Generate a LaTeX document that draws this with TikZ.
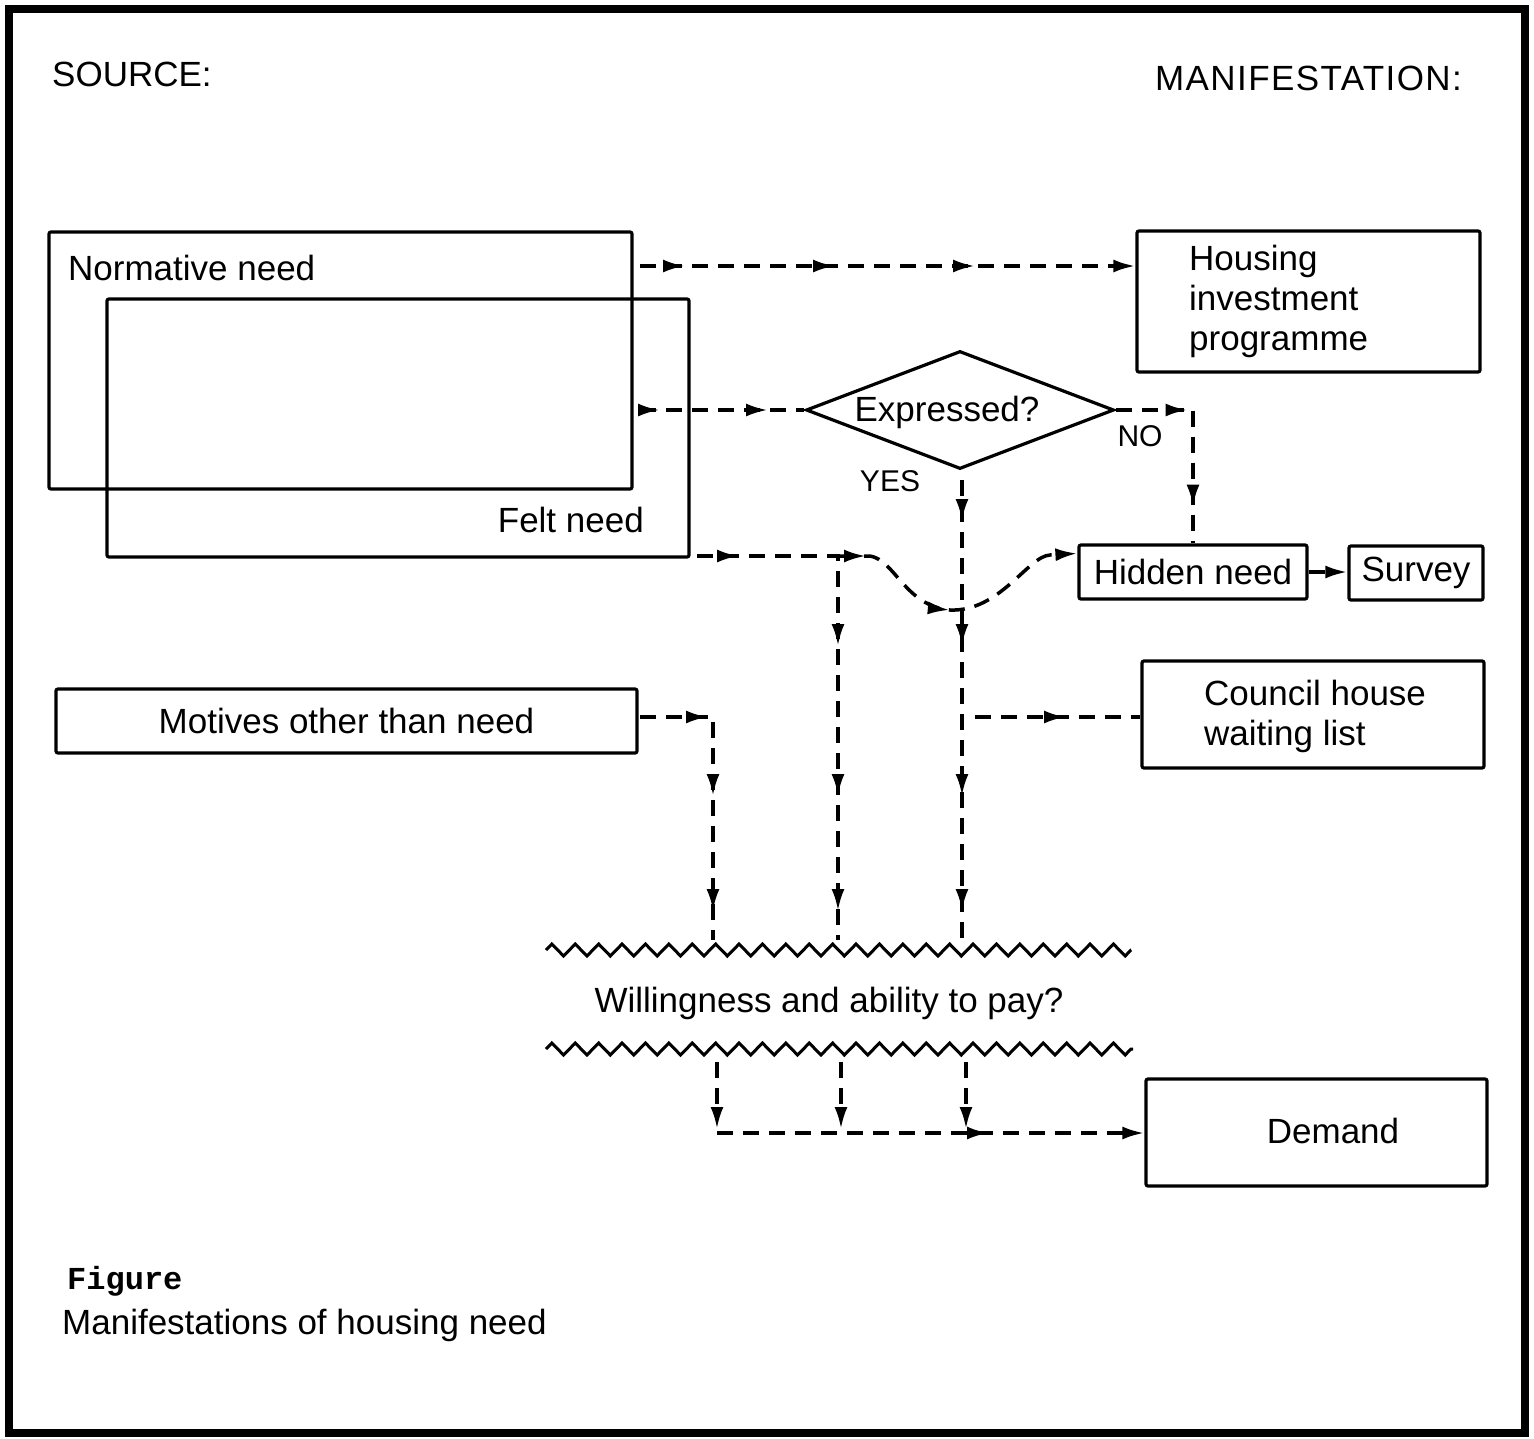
\documentclass[tikz,border=0pt]{standalone}
\usepackage{fontspec}
\setmainfont{Liberation Sans}
\newfontfamily\figmono{Liberation Mono}
\usetikzlibrary{arrows.meta,decorations.markings,decorations.pathmorphing,shapes.geometric,calc}
\begin{document}
\begin{tikzpicture}[x=1pt,y=-1pt,
  >={Latex[length=22pt,width=13pt]},
  every node/.style={inner sep=0pt, font=\fontsize{35}{40}\selectfont},
  box/.style={draw, line width=3.2pt, rounded corners=2pt},
  flow/.style={line width=3.5pt, dash pattern=on 16pt off 10pt},
  am/.style={postaction={decorate,decoration={markings,mark=at position #1 with {\arrow{>}}}}},
  zz/.style={line width=3pt, decorate, decoration={zigzag, segment length=23.4pt, amplitude=6pt}},
  small/.style={font=\fontsize{30}{36}\selectfont}
]
\useasboundingbox (0,0) rectangle (1534,1438);
\draw[line width=8pt] (9,9) rectangle (1525,1433);

% boxes
\node[box, minimum width=583pt, minimum height=257pt] (norm) at (340.5,360.5) {};
\node[box, minimum width=582pt, minimum height=258pt] (felt) at (398,428) {};
\node[box, minimum width=343pt, minimum height=141pt] (hous) at (1308.5,301.5) {};
\node[draw, diamond, line width=3.2pt, minimum width=308pt, minimum height=118pt, aspect=2.6] (dia) at (960,410) {};
\node[box, minimum width=228pt, minimum height=54pt] (hid) at (1193,572) {Hidden need};
\node[box, minimum width=134pt, minimum height=54pt] (sur) at (1416,573) {Survey};
\node[box, minimum width=342pt, minimum height=107pt] (coun) at (1313,714.5) {};
\node[box, minimum width=581pt, minimum height=64pt] (mot) at (346.5,721) {Motives other than need};
\node[box, minimum width=341pt, minimum height=107pt] (dem) at (1316.5,1132.5) {};

% texts
\node[anchor=base west] (tsrc) at (52,86) {SOURCE:};
\node[anchor=base east, font=\fontsize{35}{40}\selectfont\addfontfeature{LetterSpace=4}] (tman) at (1462,90) {MANIFESTATION:};
\node[anchor=base west] (tnorm) at (68,280) {Normative need};
\node[anchor=base east] (tfelt) at (644,532) {Felt need};
\node[anchor=west, align=left] (thous) at (1189,301) {Housing\\investment\\programme};
\node[anchor=west, align=left] (tcoun) at (1204,716) {Council house\\waiting list};
\node (texp) at (947,412) {Expressed?};
\node[small] (tyes) at (890,481) {YES};
\node[small] (tno) at (1140,436) {NO};
\node (tdem) at (1333,1131) {Demand};
\node (twill) at (829,1003) {Willingness and ability to pay?};
\node[anchor=base west, font=\figmono\bfseries\fontsize{32}{36}\selectfont] (tfig) at (67,1289) {Figure};
\node[anchor=base west] (tcap) at (62,1334) {Manifestations of housing need};

% connectors
\coordinate (n1) at (640,266);
\draw[flow,->,am=45pt,am=195pt,am=335pt] (n1) -- (n1 -| hous.west);
\coordinate (n2) at (640,410);
\draw[flow,am=20pt,am=128pt] (n2) -- (dia.west);
\draw[flow,am=72pt,am=174pt] (dia.east) -- (dia.east -| hid.north) -- (hid.north);

\coordinate (y0) at (962,480);
\coordinate (y1) at (962,940);
\draw[flow,am=41pt,am=166pt,am=316pt,am=431pt] (y0) -- (y1);

\coordinate (f0) at (697,556);
\coordinate (f1) at (838,556);
\coordinate (f2) at (838,940);
\draw[flow,am=42pt,am=231pt,am=381pt,am=496pt] (f0) -- (f1) -- (f2);
\draw[flow,->,am=28pt,am=131pt] (f1) -- (870,556) .. controls (895,560) and (905,606) .. (950,610)
   .. controls (1000,612) and (1028,556) .. (1050,555) -- ($(hid.north west)+(0,10)$);

\coordinate (m0) at (640,717);
\coordinate (m1) at (713,717);
\coordinate (m2) at (713,940);
\draw[flow,am=68pt,am=152pt,am=267pt] (m0) -- (m1) -- (m2);

\coordinate (c0) at (975,717);
\draw[flow,am=91pt] (c0) -- (c0 -| coun.west);

\draw[flow,->] (hid.east) -- (sur.west |- hid.east);

% zigzags
\coordinate (zt0) at (546,950);
\coordinate (zt1) at (1131,950);
\draw[zz] (zt0) -- (zt1);
\coordinate (zb0) at (546,1049);
\coordinate (zb1) at (1133,1049);
\draw[zz] (zb0) -- (zb1);

% bottom
\coordinate (b1) at (717,1062);
\coordinate (b2) at (841,1062);
\coordinate (b3) at (966,1062);
\coordinate (c1) at (717,1133);
\draw[flow,->] (b1) -- ++(0,67);
\draw[flow,->] (b2) -- ++(0,67);
\draw[flow,->] (b3) -- ++(0,67);
\draw[flow,->,am=272pt] (c1) -- (c1 -| dem.west);
\end{tikzpicture}
\end{document}
